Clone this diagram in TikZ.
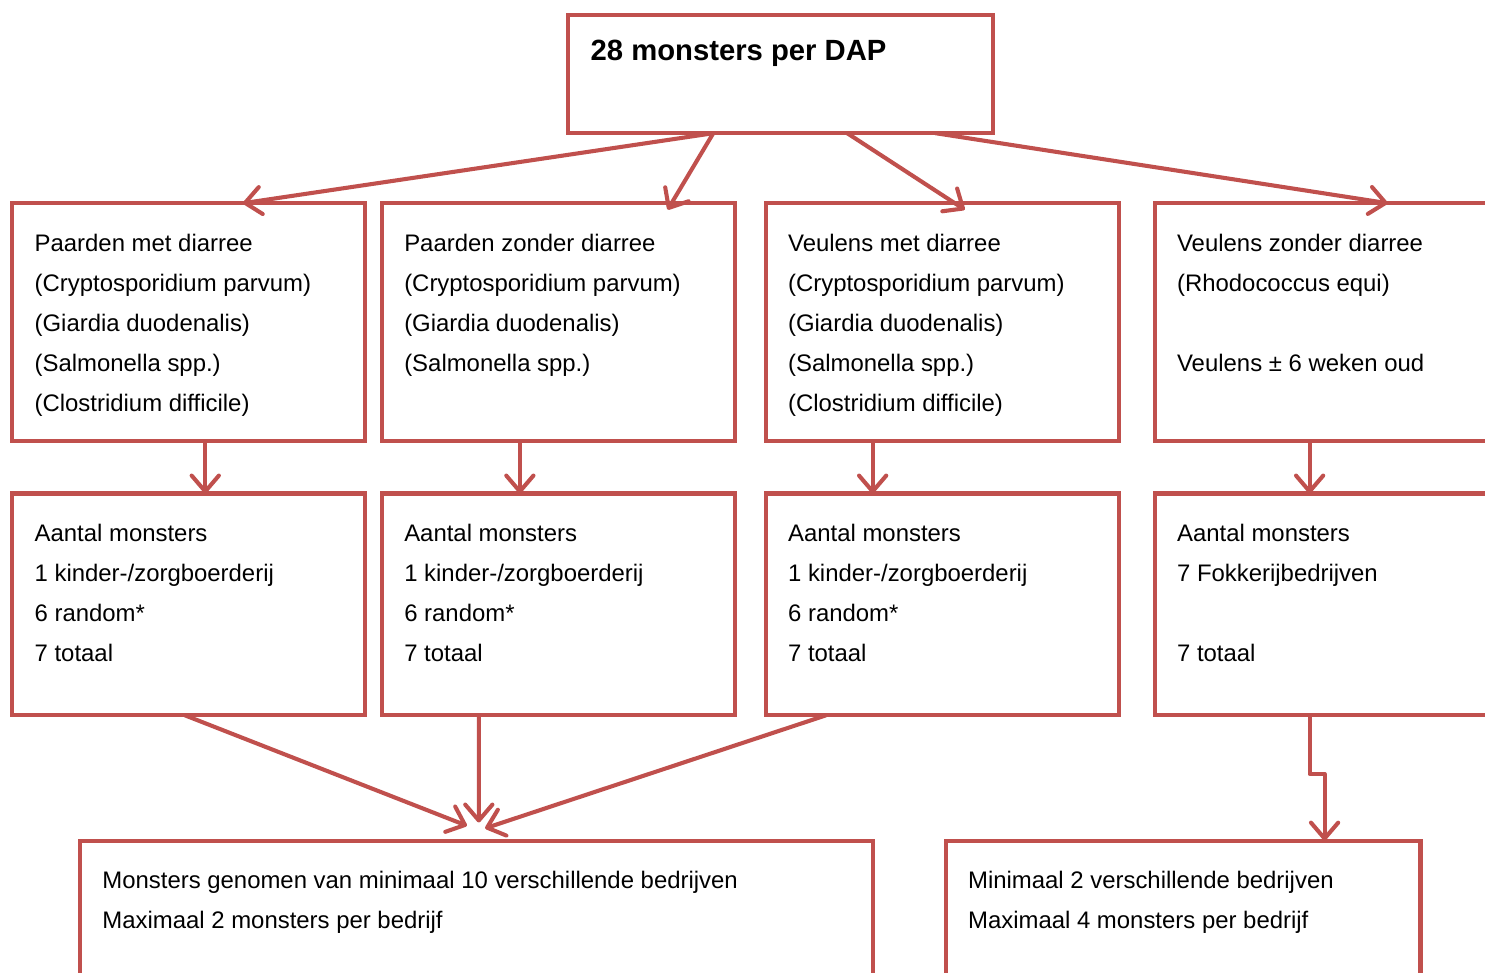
\documentclass[tikz,border=0pt]{standalone}
\usepackage{fontspec}
\setmainfont{Liberation Sans}
\usepackage{tikz}
\usetikzlibrary{positioning}
\usetikzlibrary{calc,arrows.meta}
\definecolor{boxred}{RGB}{192,80,77}
\newcommand{\boxfont}{\fontsize{10.55}{17.6}\selectfont}
\newcommand{\titlefont}{\fontsize{12.9}{15}\selectfont\bfseries}

\begin{document}
\begin{tikzpicture}[
    box/.style = {draw=boxred, line width=1.8pt, rectangle, inner sep=0pt, outer sep=0pt,
                  minimum width=5.47cm, minimum height=3.69cm},
    countbox/.style = {box, minimum height=3.44cm},
    boxtext/.style = {inner sep=0pt, align=left, font=\boxfont},
    arrow/.style = {draw=boxred, line width=1.8pt, line cap=round, line join=round,
                    -{Straight Barb[length=7pt,width=12pt,round]}},
]

    \useasboundingbox (0,0) rectangle (23.02,-15.07);
    \clip (0,0) rectangle (23.02,-15.07);

    %Boxes, first row
    \node[box, anchor=north west] (PmD) at (0.19,-3.15) {};
    \node[box, right = 0.26cm of PmD] (PzD) {};
    \node[box, right = 0.48cm of PzD] (VmD) {};
    \node[box, right = 0.56cm of VmD] (VzD) {};

    %Boxes, second row
    \node[countbox, below = 0.81cm of PmD] (PmDCount) {};
    \node[countbox, below = 0.81cm of PzD] (PzDCount) {};
    \node[countbox, below = 0.81cm of VmD] (VmDCount) {};
    \node[countbox, below = 0.81cm of VzD] (VzDCount) {};

    %Top and bottom
    \node[box, minimum width=6.59cm, minimum height=1.83cm,
          above right = 1.085cm and 8.62cm of PmD.north west] (DAP) {};
    \node[box, minimum width=12.29cm, minimum height=3cm,
          below right = 1.94cm and 1.05cm of PmDCount.south west] (Tien) {};
    \node[box, minimum width=7.36cm, minimum height=3cm, right = 1.13cm of Tien] (Twee) {};

    %-------------------------------------------
    %Labels

    \node[boxtext, font=\titlefont, below right = 0.33cm and 0.34cm of DAP.north west] (DAPText)
        {\strut 28 monsters per DAP};

    \node[boxtext, below right = 0.31cm and 0.34cm of PmD.north west] (PmDText)
        {\strut Paarden met diarree\\ (Cryptosporidium parvum)\\ (Giardia duodenalis)\\ (Salmonella spp.)\\ (Clostridium difficile)};
    \node[boxtext, below right = 0.31cm and 0.34cm of PzD.north west] (PzDText)
        {\strut Paarden zonder diarree\\ (Cryptosporidium parvum)\\ (Giardia duodenalis)\\ (Salmonella spp.)};
    \node[boxtext, below right = 0.31cm and 0.34cm of VmD.north west] (VmDText)
        {\strut Veulens met diarree\\ (Cryptosporidium parvum)\\ (Giardia duodenalis)\\ (Salmonella spp.)\\ (Clostridium difficile)};
    \node[boxtext, below right = 0.31cm and 0.34cm of VzD.north west] (VzDText)
        {\strut Veulens zonder diarree\\ (Rhodococcus equi)\\[17.6pt] Veulens ± 6 weken oud};

    \node[boxtext, below right = 0.31cm and 0.34cm of PmDCount.north west] (PmDCountText)
        {\strut Aantal monsters\\ 1 kinder-/zorgboerderij\\ 6 random*\\ 7 totaal};
    \node[boxtext, below right = 0.31cm and 0.34cm of PzDCount.north west] (PzDCountText)
        {\strut Aantal monsters\\ 1 kinder-/zorgboerderij\\ 6 random*\\ 7 totaal};
    \node[boxtext, below right = 0.31cm and 0.34cm of VmDCount.north west] (VmDCountText)
        {\strut Aantal monsters\\ 1 kinder-/zorgboerderij\\ 6 random*\\ 7 totaal};
    \node[boxtext, below right = 0.31cm and 0.34cm of VzDCount.north west] (VzDCountText)
        {\strut Aantal monsters\\ 7 Fokkerijbedrijven\\[17.6pt] 7 totaal};

    \node[boxtext, below right = 0.31cm and 0.34cm of Tien.north west] (TienText)
        {\strut Monsters genomen van minimaal 10 verschillende bedrijven\\ Maximaal 2 monsters per bedrijf};
    \node[boxtext, below right = 0.31cm and 0.34cm of Twee.north west] (TweeText)
        {\strut Minimaal 2 verschillende bedrijven\\ Maximaal 4 monsters per bedrijf};

    %-------------------------------------------
    %Arrows

    \draw[arrow] ($(DAP.south west)!0.341!(DAP.south east)$) -- ($(PmD.north west)!0.654!(PmD.north east)$);
    \draw[arrow] ($(DAP.south west)!0.341!(DAP.south east)$) -- ($(PzD.north west)!0.81!(PzD.north east) + (0,-0.1)$);
    \draw[arrow] ($(DAP.south west)!0.656!(DAP.south east)$) -- ($(VmD.north west)!0.564!(VmD.north east) + (0,-0.1)$);
    \draw[arrow] ($(DAP.south west)!0.864!(DAP.south east)$) -- ($(VzD.north west)!0.66!(VzD.north east)$);

    \draw[arrow] ($(PmD.south west)!0.547!(PmD.south east)$) -- ($(PmDCount.north west)!0.547!(PmDCount.north east)$);
    \draw[arrow] ($(PzD.south west)!0.391!(PzD.south east)$) -- ($(PzDCount.north west)!0.391!(PzDCount.north east)$);
    \draw[arrow] ($(VmD.south west)!0.303!(VmD.south east)$) -- ($(VmDCount.north west)!0.303!(VmDCount.north east)$);
    \draw[arrow] ($(VzD.south west)!0.439!(VzD.south east)$) -- ($(VzDCount.north west)!0.439!(VzDCount.north east)$);

    \draw[arrow] ($(PmDCount.south west)!0.49!(PmDCount.south east)$) -- ($(Tien.north west)!0.488!(Tien.north east) + (0,0.23)$);
    \draw[arrow] ($(PzDCount.south west)!0.275!(PzDCount.south east)$) -- ($(Tien.north west)!0.503!(Tien.north east) + (0,0.28)$);
    \draw[arrow] ($(VmDCount.south west)!0.17!(VmDCount.south east)$) -- ($(Tien.north west)!0.511!(Tien.north east) + (0,0.19)$);

    \draw[arrow] ($(VzDCount.south west)!0.439!(VzDCount.south east)$) -- ++(0,-0.91)
        -| ($(Twee.north west)!0.798!(Twee.north east)$);

\end{tikzpicture}
\end{document}
